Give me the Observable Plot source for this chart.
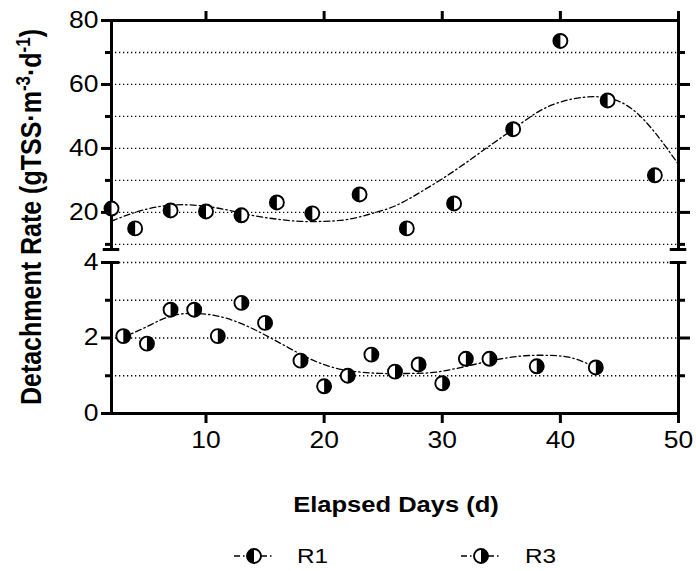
<!DOCTYPE html>
<html>
<head>
<meta charset="utf-8">
<script src="https://cdn.jsdelivr.net/npm/d3@7"></script>
<script src="https://cdn.jsdelivr.net/npm/@observablehq/plot@0.6"></script>
<style>
  html, body { margin: 0; padding: 0; background: #fff; }
  body { font-family: "Liberation Sans", Arial, Helvetica, sans-serif; color: #000; }
  #fig { position: relative; width: 696px; height: 571px; overflow: hidden; }
  #top, #bot { position: absolute; left: 0; }
  #top { top: 0; }
  #bot { top: 250px; }
  svg { overflow: visible; }
  .ytitle { position: absolute; left: 31px; top: 217px; white-space: nowrap; font-weight: bold;
            font-size: 25px; line-height: 25px; transform: translate(-50%, -50%) rotate(-90deg) scaleY(1.16); }
  .ytitle sup { font-size: 0.68em; line-height: 0; vertical-align: 0.55em; }
  .xtitle { position: absolute; left: 396px; top: 494px; white-space: nowrap; font-weight: bold;
            font-size: 22px; line-height: 22px; transform: translateX(-50%) scaleX(1.16); }
  .leg { position: absolute; top: 545px; font-size: 21px; line-height: 22px; transform-origin: left center; transform: scaleX(1.16); }
  .sw { position: absolute; top: 546px; }
</style>
</head>
<body>
<div id="fig">
  <div id="top"></div>
  <div id="bot"></div>
  <div class="ytitle">Detachment Rate (gTSS·m<sup>-3</sup>·d<sup>-1</sup>)</div>
  <div class="xtitle">Elapsed Days (d)</div>
</div>
<script>
// ---------------- data ----------------
const seriesNames = ["R1", "R3"];

// R1 (upper panel)
const r1Days = [2, 4, 7, 10, 13, 16, 19, 23, 27, 31, 36, 40, 44, 48];
const r1Rate = [21.2, 15.0, 20.6, 20.3, 19.1, 23.1, 19.7, 25.6, 15.0, 22.8, 46.0, 73.6, 55.0, 31.6];

// R1 fitted trend
const r1FitDays = [2, 4, 6, 8, 10, 12, 14, 16, 18, 20, 22, 24, 26, 28, 30, 32, 34, 36, 38, 40, 42, 44, 46, 48, 50];
const r1FitRate = [17.3, 20.0, 21.8, 22.4, 21.9, 20.6, 19.0, 17.9, 17.2, 17.2, 17.8, 19.6, 22.0, 26.0, 30.5, 35.5, 40.8, 46.0, 51.2, 54.5, 56.0, 55.8, 52.5, 45.0, 35.0];

// R3 (lower panel)
const r3Days = [3, 5, 7, 9, 11, 13, 15, 18, 20, 22, 24, 26, 28, 30, 32, 34, 38, 43];
const r3Rate = [2.05, 1.85, 2.75, 2.75, 2.05, 2.93, 2.40, 1.40, 0.72, 1.00, 1.56, 1.11, 1.30, 0.80, 1.45, 1.45, 1.25, 1.22];

// R3 fitted trend
const r3FitDays = [3, 5, 7, 9, 11, 13, 15, 17, 19, 21, 23, 25, 27, 29, 31, 33, 35, 37, 39, 41, 43];
const r3FitRate = [2.02, 2.30, 2.58, 2.65, 2.58, 2.38, 2.08, 1.74, 1.42, 1.20, 1.10, 1.06, 1.06, 1.08, 1.18, 1.32, 1.45, 1.53, 1.54, 1.47, 1.22];

// axes
const xDomain = [2, 50];
const xTicks = [10, 20, 30, 40, 50];
const topDomain = [8.4, 80];
const topMajor = [20, 40, 60, 80];
const topMinor = [10, 30, 50, 70];
const topGrid = [10, 20, 30, 40, 50, 60, 70];
const botDomain = [0, 4];
const botMajor = [0, 2, 4];
const botMinor = [1, 3];
const botGrid = [1, 2, 3, 4];

// ---------------- helpers ----------------
const FONT = '"Liberation Sans", Arial, Helvetica, sans-serif';
const rows = (xs, ys) => xs.map((d, i) => ({day: d, rate: ys[i]}));
const halfSymbol = (leftSide) => ({
  draw(ctx, size) {
    const r = Math.sqrt(size / Math.PI);
    ctx.moveTo(0, -r);
    ctx.arc(0, 0, r, -Math.PI / 2, Math.PI / 2, leftSide);
    ctx.closePath();
  }
});
const symR1 = halfSymbol(true);   // left half filled
const symR3 = halfSymbol(false);  // right half filled
const gridStyle = {stroke: "#000", strokeOpacity: 1, strokeWidth: 1.3, strokeDasharray: "1.3,2.7"};
const fitStyle = {stroke: "#000", strokeWidth: 1.3, strokeDasharray: "6,3,1.5,3", curve: "natural"};
const blank = () => "";
const intFmt = d3.format("d");
const BR = 0.7; // half width (days) of the axis-break bars

function markers(data, sym) {
  return [
    Plot.dot(data, {x: "day", y: "rate", r: 7, fill: "#fff", stroke: "#000", strokeWidth: 1.9}),
    Plot.dot(data, {x: "day", y: "rate", r: 7, symbol: sym, fill: "#000", stroke: "none"})
  ];
}

function stretchText(svg, k) {
  svg.querySelectorAll("text").forEach(t => {
    if (!t.textContent) return;
    const L = t.getComputedTextLength();
    if (L > 0) {
      t.setAttribute("textLength", (L * k).toFixed(2));
      t.setAttribute("lengthAdjust", "spacingAndGlyphs");
    }
  });
}

// ---------------- upper panel ----------------
const topPlot = Plot.plot({
  width: 696, height: 252,
  marginLeft: 111, marginRight: 18, marginTop: 20, marginBottom: 3,
  x: {domain: xDomain, label: null},
  y: {domain: topDomain, label: null},
  style: {fontFamily: FONT, fontSize: "23px", color: "#000", background: "transparent", overflow: "visible"},
  marks: [
    Plot.gridY({ticks: topGrid, ...gridStyle}),
    Plot.line(rows(r1FitDays, r1FitRate), {x: "day", y: "rate", ...fitStyle}),
    Plot.ruleX([xDomain[0], xDomain[1]], {stroke: "#000", strokeWidth: 3}),
    Plot.ruleY([topDomain[1]], {stroke: "#000", strokeWidth: 3, strokeLinecap: "square"}),
    Plot.axisY({ticks: topMajor, anchor: "left", tickSize: 10, tickPadding: 3, strokeWidth: 3, fontSize: 23, tickFormat: intFmt, label: null}),
    Plot.axisY({ticks: topMinor, anchor: "left", tickSize: 6, strokeWidth: 3, tickFormat: blank, label: null}),
    Plot.axisY({ticks: [20, 40, 60], anchor: "right", tickSize: 11, strokeWidth: 3, tickFormat: blank, label: null}),
    Plot.axisY({ticks: topMinor, anchor: "right", tickSize: 6, strokeWidth: 3, tickFormat: blank, label: null}),
    Plot.axisX({ticks: xTicks, anchor: "top", tickSize: 10, strokeWidth: 3, tickFormat: blank, label: null}),
    Plot.ruleY([topDomain[0]], {x1: xDomain[0] - BR, x2: xDomain[0] + BR, stroke: "#000", strokeWidth: 3}),
    Plot.ruleY([topDomain[0]], {x1: xDomain[1] - BR, x2: xDomain[1] + BR, stroke: "#000", strokeWidth: 3}),
    ...markers(rows(r1Days, r1Rate), symR1)
  ]
});
document.getElementById("top").appendChild(topPlot);
stretchText(topPlot, 1.15);

// ---------------- lower panel ----------------
const botPlot = Plot.plot({
  width: 696, height: 200,
  marginLeft: 111, marginRight: 18, marginTop: 12, marginBottom: 37,
  x: {domain: xDomain, label: null},
  y: {domain: botDomain, label: null},
  style: {fontFamily: FONT, fontSize: "23px", color: "#000", background: "transparent", overflow: "visible"},
  marks: [
    Plot.gridY({ticks: botGrid, ...gridStyle}),
    Plot.line(rows(r3FitDays, r3FitRate), {x: "day", y: "rate", ...fitStyle}),
    Plot.ruleX([xDomain[0], xDomain[1]], {stroke: "#000", strokeWidth: 3}),
    Plot.ruleY([botDomain[0]], {stroke: "#000", strokeWidth: 3, strokeLinecap: "square"}),
    Plot.axisY({ticks: botMajor, anchor: "left", tickSize: 10, tickPadding: 3, strokeWidth: 3, fontSize: 23, tickFormat: intFmt, label: null}),
    Plot.axisY({ticks: botMinor, anchor: "left", tickSize: 6, strokeWidth: 3, tickFormat: blank, label: null}),
    Plot.axisY({ticks: [2], anchor: "right", tickSize: 11, strokeWidth: 3, tickFormat: blank, label: null}),
    Plot.axisY({ticks: botMinor, anchor: "right", tickSize: 6, strokeWidth: 3, tickFormat: blank, label: null}),
    Plot.axisX({ticks: xTicks, anchor: "bottom", tickSize: 10, tickPadding: 8, strokeWidth: 3, fontSize: 23, tickFormat: intFmt, label: null}),
    Plot.ruleY([botDomain[1]], {x1: xDomain[0] - BR, x2: xDomain[0] + BR, stroke: "#000", strokeWidth: 3}),
    Plot.ruleY([botDomain[1]], {x1: xDomain[1] - BR, x2: xDomain[1] + BR, stroke: "#000", strokeWidth: 3}),
    ...markers(rows(r3Days, r3Rate), symR3)
  ]
});
document.getElementById("bot").appendChild(botPlot);
stretchText(botPlot, 1.15);

// ---------------- legend ----------------
const fig = document.getElementById("fig");
const legendPos = [{sw: 233, tx: 297}, {sw: 460, tx: 525}];
const legendSyms = [symR1, symR3];
seriesNames.forEach((name, i) => {
  const svg = d3.create("svg").attr("class", "sw").attr("width", 42).attr("height", 20)
    .style("left", legendPos[i].sw + "px");
  svg.append("line").attr("x1", 1).attr("x2", 41).attr("y1", 10).attr("y2", 10)
    .attr("stroke", "#000").attr("stroke-width", 1.3).attr("stroke-dasharray", "6,3,1.5,3");
  svg.append("circle").attr("cx", 21).attr("cy", 10).attr("r", 7)
    .attr("fill", "#fff").attr("stroke", "#000").attr("stroke-width", 1.9);
  svg.append("path").attr("transform", "translate(21,10)")
    .attr("d", d3.symbol().type(legendSyms[i]).size(Math.PI * 49)()).attr("fill", "#000");
  fig.appendChild(svg.node());
  const t = document.createElement("div");
  t.className = "leg";
  t.style.left = legendPos[i].tx + "px";
  t.textContent = name;
  fig.appendChild(t);
});
</script>
</body>
</html>
